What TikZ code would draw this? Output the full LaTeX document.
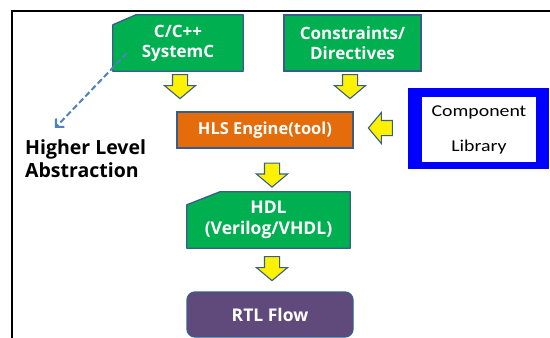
\documentclass[tikz,border=0pt]{standalone}
\usepackage{fontspec}
\setmainfont{Open Sans}
\newfontfamily\libfont[FakeStretch=1.2]{Carlito}
\usepackage{tikz}
\usetikzlibrary{arrows.meta}
\usetikzlibrary{shapes.arrows}
\usetikzlibrary{backgrounds,calc}
\definecolor{boxgreen}{RGB}{0,176,80}
\definecolor{edgeblue}{RGB}{56,93,138}
\definecolor{hlsorange}{RGB}{228,108,10}
\definecolor{rtlpurple}{RGB}{96,74,123}
\definecolor{dashblue}{RGB}{79,129,189}
\definecolor{libblue}{RGB}{0,0,255}

\tikzset{
  boxtext/.style={text=white,align=center,inner sep=0pt,
    font=\fontsize{17}{20}\selectfont\bfseries},
  flowbox/.style={boxtext,draw=edgeblue,line width=1.3pt},
  cutbox/.style={draw=edgeblue,fill=boxgreen,line width=1.3pt,line join=round},
  fatarrow/.style={single arrow,draw=edgeblue,fill=yellow,line width=1.1pt,
    inner xsep=2pt,inner ysep=7pt,minimum height=24pt,
    single arrow head extend=8pt,single arrow tip angle=100,
    single arrow head indent=0pt},
  dashlink/.style={dashblue,line width=2pt,dash pattern=on 6pt off 3pt,
    -{Straight Barb[length=6pt,width=12pt]}},
}

\begin{document}
\begin{tikzpicture}[x=1pt,y=-1pt]
    \path[use as bounding box] (0,0) rectangle (550,338);
    \clip (0,0) rectangle (550,338);
    % open frame, only left and top edges are inside the page
    \draw[line width=1.8pt] (12,350) |- (560,11);

    % flow boxes
    \node[boxtext,minimum width=130pt,minimum height=56pt] (cpp) at (178,43) {C/C++\\SystemC};
    \node[flowbox,fill=boxgreen,minimum width=137pt,minimum height=56pt] (con) at (352.5,43) {Constraints/\\Directives};
    \node[flowbox,fill=hlsorange,minimum width=176pt,minimum height=36pt,
      font=\fontsize{16.5}{20}\selectfont\bfseries] (hls) at (265,130) {HLS Engine(tool)};
    \node[boxtext,minimum width=163pt,minimum height=56pt,
      font=\fontsize{17.5}{21}\selectfont\bfseries] (hdl) at (268.5,220) {HDL\\(Verilog/VHDL)};
    \node[flowbox,fill=rtlpurple,rounded corners=8pt,minimum width=166pt,minimum height=45pt,
      font=\fontsize{17.5}{21}\selectfont\bfseries] (rtl) at (270,314.5) {RTL Flow};

    % cut-corner outlines behind the source texts
    \begin{scope}[on background layer]
      \draw[cutbox] ([yshift=-10pt]cpp.north west) -- ([xshift=23pt]cpp.north west)
        -- (cpp.north east) -- (cpp.south east) -- (cpp.south west) -- cycle;
      \draw[cutbox] ([yshift=-13pt]hdl.north west) -- ([xshift=33pt]hdl.north west)
        -- (hdl.north east) -- (hdl.south east) -- (hdl.south west) -- cycle;
    \end{scope}

    % library box
    \node[fill=libblue,minimum width=141pt,minimum height=81pt] (lib) at (478.5,128.5) {};
    \node[fill=white,minimum width=114pt,minimum height=65pt,inner sep=0pt,align=center,
      font=\libfont\fontsize{16.5}{35}\selectfont] (libin) at (479,129.5) {Component\\Library};

    % abstraction label
    \node[anchor=west,align=left,inner sep=0pt,
      font=\fontsize{19.5}{23}\selectfont\bfseries] (hla) at (25,158.4) {Higher Level\\Abstraction};
    \coordinate (hlatip) at (55,128);
    \draw[dashlink] ([xshift=14pt,yshift=18pt]cpp.south west) -- (hlatip);

    % yellow block arrows
    \node[fatarrow,rotate=-90,anchor=tip] (a1) at ($(hls.north -| cpp.south)+(2,-12)$) {};
    \node[fatarrow,rotate=-90,anchor=tip] (a2) at ($(hls.north -| con.south)+(-2.5,-12)$) {};
    \node[fatarrow,rotate=-90,anchor=tip] (a3) at ($(hdl.north)+(3.5,-4)$) {};
    \node[fatarrow,rotate=-90,anchor=tip] (a4) at ($(rtl.north)+(2,-10)$) {};
    \node[fatarrow,rotate=180,anchor=tip] (a5) at ($(hls.east)+(14,-2)$) {};
\end{tikzpicture}
\end{document}
